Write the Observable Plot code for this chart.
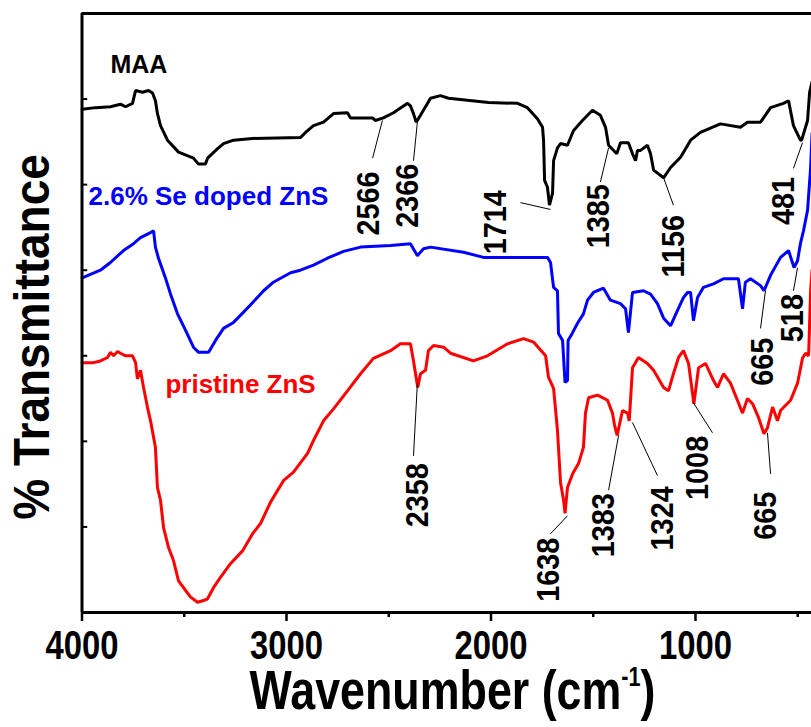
<!DOCTYPE html>
<html>
<head>
<meta charset="utf-8">
<script src="https://cdn.jsdelivr.net/npm/d3@7"></script>
<script src="https://cdn.jsdelivr.net/npm/@observablehq/plot@0.6"></script>
<style>
  body { margin: 0; background: #fff; overflow: hidden; }
</style>
</head>
<body>
<div id="chart"></div>
<script>
// FTIR spectra (wavenumber in cm-1, transmittance in arbitrary offset units)
const maaWave = [3999, 3934, 3861, 3812, 3787, 3753, 3738, 3704, 3675, 3655, 3641, 3631, 3616, 3582, 3528, 3455, 3430, 3396, 3386, 3337, 3308, 3259, 3166, 2932, 2907, 2868, 2819, 2770, 2702, 2687, 2579, 2566, 2526, 2477, 2408, 2394, 2379, 2366, 2345, 2310, 2296, 2247, 2208, 2012, 1870, 1822, 1773, 1748, 1743, 1738, 1724, 1714, 1699, 1694, 1675, 1660, 1626, 1597, 1553, 1504, 1465, 1440, 1425, 1385, 1367, 1328, 1308, 1293, 1284, 1269, 1235, 1220, 1205, 1156, 1122, 1073, 1024, 976, 878, 780, 746, 682, 633, 570, 545, 521, 487, 481, 452, 442, 430];
const maaT = [58.8, 59.0, 59.1, 59.4, 59.1, 59.5, 61.0, 60.8, 61.0, 60.7, 59.8, 58.3, 56.9, 55.2, 53.8, 53.1, 52.4, 52.4, 53.1, 54.2, 54.8, 55.2, 55.4, 55.5, 56.1, 56.9, 57.3, 58.3, 58.4, 57.8, 57.8, 57.5, 57.8, 58.4, 59.5, 59.2, 58.3, 57.3, 58.1, 59.5, 60.1, 60.4, 60.1, 59.6, 59.5, 59.0, 57.7, 56.7, 55.2, 50.5, 49.7, 47.6, 49.0, 52.8, 54.3, 54.8, 54.6, 56.3, 57.5, 58.7, 58.1, 56.7, 54.6, 53.6, 54.9, 54.9, 53.6, 52.8, 54.0, 54.0, 54.6, 53.6, 51.7, 50.8, 52.0, 53.2, 55.2, 56.1, 57.1, 56.7, 57.3, 57.3, 59.0, 59.5, 59.8, 56.9, 55.2, 55.2, 57.5, 60.8, 62.0];

const dopedWave = [3999, 3910, 3861, 3797, 3748, 3714, 3665, 3650, 3641, 3626, 3592, 3567, 3533, 3494, 3455, 3430, 3381, 3347, 3308, 3259, 3210, 3166, 3112, 3064, 2980, 2932, 2868, 2800, 2721, 2638, 2491, 2394, 2360, 2330, 2296, 2134, 2037, 1724, 1709, 1694, 1675, 1670, 1650, 1638, 1626, 1623, 1601, 1577, 1548, 1528, 1499, 1450, 1416, 1367, 1342, 1328, 1308, 1254, 1220, 1186, 1156, 1122, 1088, 1059, 1039, 1024, 1010, 990, 961, 912, 863, 790, 770, 756, 731, 682, 665, 633, 584, 545, 518, 501, 487, 472, 452, 437, 430];
const dopedT = [39.1, 40.0, 40.9, 42.3, 43.1, 43.8, 44.4, 44.6, 42.7, 41.4, 39.1, 37.2, 34.9, 33.0, 31.0, 30.4, 30.4, 31.8, 33.2, 33.9, 35.1, 36.2, 37.6, 38.6, 39.7, 40.0, 40.6, 41.4, 42.2, 42.7, 42.9, 43.1, 41.7, 42.5, 42.7, 42.1, 41.5, 41.5, 40.9, 38.0, 37.6, 32.6, 31.8, 26.9, 27.1, 31.8, 32.7, 33.8, 34.9, 36.5, 37.4, 37.9, 36.5, 36.1, 35.5, 32.7, 37.4, 37.6, 37.2, 36.1, 34.4, 33.5, 35.3, 36.8, 37.4, 37.4, 34.1, 36.8, 38.0, 38.4, 39.0, 39.0, 35.5, 38.6, 39.0, 38.2, 37.6, 39.4, 41.5, 42.3, 40.3, 41.1, 43.1, 44.6, 47.0, 52.0, 56.0];

const pristineWave = [3999, 3944, 3910, 3875, 3861, 3846, 3826, 3812, 3787, 3753, 3738, 3729, 3714, 3699, 3680, 3665, 3641, 3631, 3616, 3601, 3577, 3553, 3528, 3494, 3469, 3435, 3406, 3386, 3357, 3323, 3274, 3215, 3166, 3127, 3078, 3015, 2966, 2897, 2868, 2819, 2770, 2702, 2638, 2575, 2491, 2443, 2394, 2379, 2358, 2345, 2320, 2306, 2281, 2232, 2198, 2086, 2017, 1919, 1841, 1792, 1733, 1719, 1694, 1675, 1660, 1645, 1638, 1626, 1601, 1572, 1548, 1538, 1523, 1479, 1430, 1406, 1396, 1383, 1357, 1332, 1324, 1308, 1279, 1235, 1205, 1156, 1132, 1108, 1083, 1059, 1034, 1008, 985, 951, 912, 892, 863, 829, 795, 770, 746, 721, 692, 665, 648, 623, 599, 584, 535, 501, 477, 462, 447, 437, 430];
const pristineT = [29.2, 29.2, 29.4, 29.8, 30.4, 30.0, 30.5, 30.3, 30.0, 30.0, 29.2, 27.3, 28.3, 26.3, 24.0, 22.4, 19.3, 14.6, 13.1, 9.9, 7.6, 6.1, 3.7, 2.6, 1.8, 1.2, 1.4, 1.6, 2.9, 4.1, 5.7, 7.2, 9.2, 10.4, 12.9, 15.4, 16.4, 18.6, 20.1, 22.4, 23.8, 25.9, 27.9, 29.7, 30.6, 31.4, 31.4, 29.4, 26.3, 27.9, 28.3, 30.6, 31.2, 31.0, 30.3, 29.4, 30.0, 31.4, 32.0, 31.6, 30.0, 27.5, 26.2, 21.3, 15.2, 13.1, 11.6, 14.6, 16.2, 17.4, 19.3, 23.3, 25.1, 25.4, 24.8, 23.3, 21.9, 20.7, 23.6, 23.3, 22.4, 28.6, 29.8, 29.1, 28.3, 26.3, 25.9, 27.9, 29.8, 30.6, 29.1, 24.4, 28.6, 29.1, 27.1, 26.3, 27.9, 26.8, 24.8, 23.3, 25.0, 24.4, 22.8, 20.9, 21.6, 24.0, 22.4, 23.6, 24.8, 26.8, 29.7, 30.3, 30.0, 37.6, 40.0];

const seriesNames = ["MAA", "2.6% Se doped ZnS", "pristine ZnS"];
const seriesColors = ["#000000", "#0000ff", "#ff0000"];
// label anchor (left end of text baseline) for each series name
const seriesLabelX = [3861, 3968, 3592];
const seriesLabelY = [63.1, 47.6, 25.6];
const seriesLabelSize = [25, 26, 26];

// assigned peaks: text, label centre and leader line from label to band
const peakText = ["2566", "2366", "1714", "1385", "1156", "481", "665", "518", "2358", "1638", "1383", "1324", "1008", "665"];
const peakLabelX = [2599, 2408, 1978, 1475, 1108, 570, 672, 526, 2360, 1719, 1450, 1161, 990, 658];
const peakLabelY = [47.8, 48.7, 45.6, 46.3, 42.8, 48.1, 29.3, 34.4, 13.7, 5.0, 10.2, 11.0, 16.9, 11.3];
const leaderX1 = [2579, 2379, 1856, 1465, 1108, 521, 682, 521, 2379, 1709, 1425, 1186, 917, 633];
const leaderY1 = [53.1, 52.8, 47.9, 50.3, 47.6, 51.9, 33.2, 37.6, 18.3, 9.2, 14.3, 16.0, 21.0, 16.2];
const leaderX2 = [2531, 2360, 1709, 1425, 1156, 477, 658, 501, 2360, 1626, 1376, 1308, 1010, 648];
const leaderY2 = [57.5, 57.3, 47.1, 54.3, 50.8, 54.9, 37.6, 40.3, 26.8, 11.3, 20.7, 22.2, 24.5, 21.0];

const xMajor = [4000, 3000, 2000, 1000];
const xMinor = [3500, 2500, 1500, 500];
const yTicks = [10, 20, 30, 40, 50, 60];

const toRows = (wave, t, name) => wave.map((w, i) => ({wavenumber: w, transmittance: t[i], sample: name}));
const spectra = [
  ...toRows(maaWave, maaT, seriesNames[0]),
  ...toRows(dopedWave, dopedT, seriesNames[1]),
  ...toRows(pristineWave, pristineT, seriesNames[2])
];
const seriesLabels = seriesNames.map((name, i) => ({name, x: seriesLabelX[i], y: seriesLabelY[i], color: seriesColors[i], size: seriesLabelSize[i]}));
const peaks = peakText.map((text, i) => ({text, x: peakLabelX[i], y: peakLabelY[i]}));
const leaders = peakText.map((text, i) => ({x1: leaderX1[i], y1: leaderY1[i], x2: leaderX2[i], y2: leaderY2[i]}));

const font = "'Liberation Sans', Arial, Helvetica, sans-serif";
const xTitle = "Wavenumber (cm-1)";
const yTitle = "% Transmittance";

const chart = Plot.plot({
  width: 811,
  height: 727,
  marginTop: 13,
  marginBottom: 115,
  marginLeft: 81.5,
  marginRight: 0,
  style: {fontFamily: font, background: "#fff", color: "#000"},
  x: {domain: [4000, 400], range: [81.5, 817.7]},
  y: {domain: [0, 70], range: [612, 13], axis: null},
  color: {domain: seriesNames, range: seriesColors},
  marks: [
    // spectra
    Plot.line(spectra, {x: "wavenumber", y: "transmittance", z: "sample", stroke: "sample", strokeWidth: 3, strokeLinejoin: "miter"}),
    // leader lines
    Plot.link(leaders, {x1: "x1", y1: "y1", x2: "x2", y2: "y2", stroke: "#000", strokeWidth: 1}),
    // peak labels
    Plot.text(peaks, {x: "x", y: "y", text: "text", rotate: -90, fontSize: 32, fontWeight: "bold", fill: "#000", textAnchor: "middle", lineAnchor: "middle"}),
    // series names
    ...seriesLabels.map(d => Plot.text([d], {x: "x", y: "y", text: "name", fill: d.color, fontSize: d.size, fontWeight: "bold", textAnchor: "start", lineAnchor: "bottom"})),
    // frame
    Plot.ruleX([4000], {y1: 0, y2: 70, stroke: "#000", strokeWidth: 3}),
    Plot.ruleY([0, 70], {x1: 4000, x2: 400, stroke: "#000", strokeWidth: 3}),
    // inward y ticks
    Plot.ruleY(yTicks, {x1: 4000, x2: 3972, stroke: "#000", strokeWidth: 2}),
    // x axis
    Plot.axisX(xMajor, {anchor: "bottom", tickSize: 9, tickPadding: 9, strokeWidth: 2.5, tickFormat: d => String(d), fontSize: 40, fontWeight: "bold", label: null}),
    Plot.axisX(xMinor, {anchor: "bottom", tickSize: 5, strokeWidth: 2.5, tickFormat: () => "", label: null}),
    // axis titles
    Plot.text([xTitle], {x: 2188, y: -11.3, text: d => d, fontSize: 56, fontWeight: "bold", textAnchor: "middle", lineAnchor: "bottom"}),
    Plot.text([yTitle], {x: 4242, y: 32.2, text: d => d, rotate: -90, fontSize: 50, fontWeight: "bold", textAnchor: "middle", lineAnchor: "middle"})
  ]
});

document.getElementById("chart").appendChild(chart);

const texts = Array.from(chart.querySelectorAll("text"));

// superscript exponent in the x title
texts.forEach(t => {
  if (t.textContent !== xTitle) return;
  t.textContent = "Wavenumber (cm";
  const sup = document.createElementNS("http://www.w3.org/2000/svg", "tspan");
  sup.setAttribute("dy", "-23");
  sup.setAttribute("font-size", "27");
  sup.textContent = "-1";
  t.appendChild(sup);
  const close = document.createElementNS("http://www.w3.org/2000/svg", "tspan");
  close.setAttribute("dy", "23");
  close.textContent = ")";
  t.appendChild(close);
});

// narrow the bold face along the text direction
function condense(labels, k) {
  texts.forEach(t => {
    if (!labels.includes(t.textContent)) return;
    const len = t.getComputedTextLength();
    if (!(len > 0)) return;
    t.setAttribute("textLength", (len * k).toFixed(1));
    t.setAttribute("lengthAdjust", "spacingAndGlyphs");
  });
}
condense(xMajor.map(String), 0.82);
condense(peakText, 0.9);
condense([xTitle], 0.8);
condense([yTitle], 0.92);
</script>
</body>
</html>
